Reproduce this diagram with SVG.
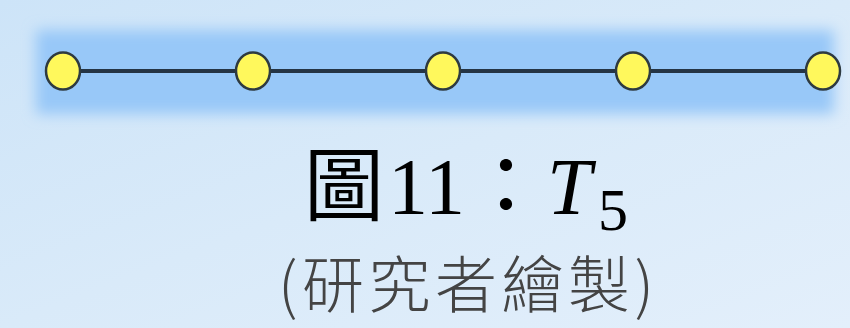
<svg xmlns="http://www.w3.org/2000/svg" width="850" height="328" viewBox="0 0 850 328">
<defs>
<linearGradient id="bg" x1="0" y1="0" x2="1" y2="1">
<stop offset="0" stop-color="#cde4f8"/>
<stop offset="0.5" stop-color="#d9eaf9"/>
<stop offset="1" stop-color="#e3effb"/>
</linearGradient>
<filter id="blur" x="-5%" y="-40%" width="110%" height="180%">
<feGaussianBlur stdDeviation="7"/>
</filter>
<style>
.node{fill:#fff85c;stroke:#2e3a40;stroke-width:2.5}
.edge{stroke:#253545;stroke-width:4;fill:none}
.title{font-family:"Liberation Serif","Noto Sans CJK TC",serif;font-size:80px;fill:#000}
.sub{font-family:"Noto Sans CJK TC","Liberation Sans",sans-serif;font-size:62px;font-weight:300;fill:#444}
</style>
</defs>
<rect width="850" height="328" fill="url(#bg)"/>
<rect x="36" y="30" width="798" height="84" fill="#98c8f8" filter="url(#blur)"/>
<g id="connectors">
<line class="edge" x1="63" y1="71" x2="823" y2="71"/>
</g>
<g id="n1"><ellipse class="node" cx="63" cy="71" rx="17" ry="18.5"/></g>
<g id="n2"><ellipse class="node" cx="253" cy="71" rx="17" ry="18.5"/></g>
<g id="n3"><ellipse class="node" cx="443" cy="71" rx="17" ry="18.5"/></g>
<g id="n4"><ellipse class="node" cx="633" cy="71" rx="17" ry="18.5"/></g>
<g id="n5"><ellipse class="node" cx="823" cy="71" rx="17" ry="18.5"/></g>
<text class="title" y="214"><tspan x="304">圖</tspan><tspan x="388">11</tspan><tspan x="466">：</tspan><tspan x="547" font-style="italic">T</tspan><tspan x="598" y="230" font-size="60">5</tspan></text>
<text class="sub" x="278" y="308" textLength="376" lengthAdjust="spacing">(研究者繪製)</text>
</svg>
